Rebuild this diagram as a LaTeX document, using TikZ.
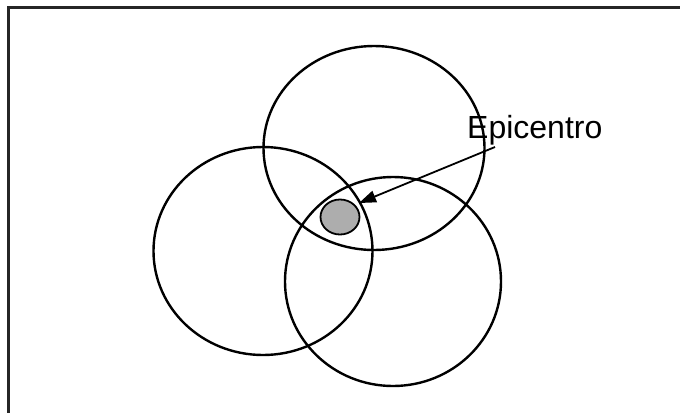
\documentclass[tikz,border=0pt]{standalone}
\usepackage{fontspec}
\setmainfont{Liberation Sans}
\usetikzlibrary{shapes.geometric,arrows.meta}
\begin{document}
\begin{tikzpicture}[x=1pt,y=1pt,
  ring/.style={draw=black,line width=2.4pt,ellipse,inner sep=0pt},
  frameline/.style={draw=black!85,line width=3pt},
  lbl/.style={font=\fontsize{32}{32}\selectfont,inner sep=0pt},
  pointer/.style={draw=black,line width=1.8pt,-{Triangle[length=17pt,width=12pt]}}]
\useasboundingbox (0,0) rectangle (680,-413);
\fill[white] (0,0) rectangle (680,-413);
% frame (only top and left edges visible)
\coordinate (ftr) at (680,-7);
\coordinate (ftl) at (8,-7);
\coordinate (fbl) at (8,-413);
\draw[frameline] (ftr) -- (ftl) -- (fbl);
% circles
\node[ring,minimum width=221pt,minimum height=204pt] (top) at (374,-148) {};
\node[ring,minimum width=219pt,minimum height=208pt] (left) at (263,-251) {};
\node[ring,minimum width=216pt,minimum height=209pt] (right) at (393,-281.5) {};
% epicentre
\node[draw=black,line width=1.8pt,fill=black!32,ellipse,inner sep=0pt,minimum width=39pt,minimum height=35pt] (epi) at (340,-217) {};
% label
\node[lbl,anchor=base west] (txt) at (467,-138) {Epicentro};
\coordinate (astart) at (495,-147);
\coordinate (aend) at (359,-203);
\draw[pointer] (astart) -- (aend);
\end{tikzpicture}
\end{document}
